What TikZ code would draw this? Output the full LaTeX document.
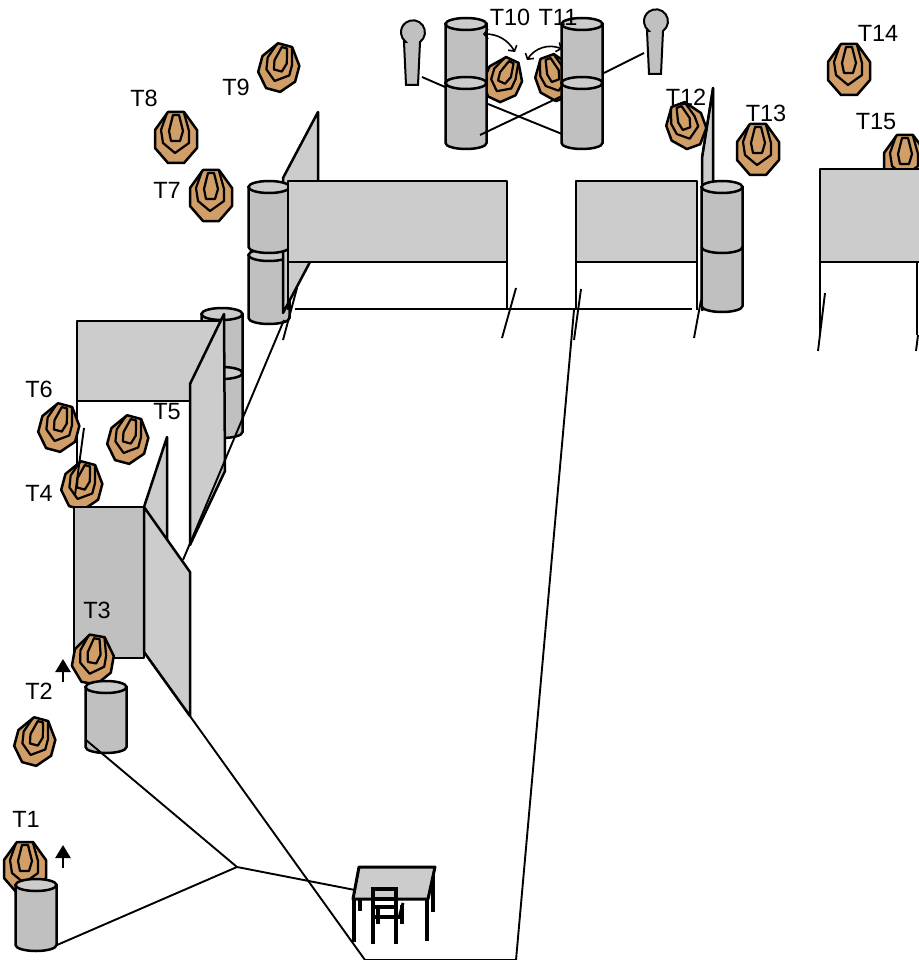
\documentclass[tikz,border=0pt]{standalone}
\usepackage{fontspec}
\setmainfont{Liberation Sans}
\usepackage{tikz}
\usetikzlibrary{arrows.meta,positioning}
\usepackage{xcolor}
\definecolor{tgtorange}{RGB}{209,158,104}
\definecolor{drumgray}{RGB}{192,192,192}
\definecolor{wallgray}{RGB}{204,204,204}
\tikzstyle{wall} = [draw=black, fill=wallgray, line width=2.5pt, line join=round]
\tikzstyle{drum} = [draw=black, fill=drumgray, line width=2.5pt]
\tikzstyle{drumtop} = [draw=black, fill=wallgray, line width=2.5pt]
\tikzstyle{wire} = [draw=black, line width=1.9pt]
\tikzstyle{tlabel} = [font=\fontsize{23.5}{25}\selectfont, inner sep=0pt]
\tikzstyle{uparrow} = [draw=black, line width=2.5pt, -{Triangle[length=13pt,width=15pt]}]
\tikzstyle{swing} = [draw=black, line width=1.6pt, {Straight Barb[length=4pt,width=10pt]}-{Straight Barb[length=4pt,width=10pt]}]
\tikzstyle{tableleg} = [draw=black, line width=4.5pt]
% target at x,y with a turn
\newcommand{\target}[3]{%
\begin{scope}[shift={(#1,#2)},rotate=#3,scale={1-abs(#3)*0.006}]
\draw[fill=tgtorange, line width=2.5pt, line join=round] (-8,-26) -- (8,-26) -- (21,-8) -- (21,10) -- (8,25) -- (-8,25) -- (-21,10) -- (-21,-8) -- cycle;
\draw[line width=2.2pt, line join=round] (-9,-25) -- (-15,-8) -- (-13,5) -- (-1,15) -- (13,5) -- (13,-7) -- (8,-25);
\draw[line width=2.2pt, line join=round] (-3,-23) -- (-7,-7) -- (-5,3) -- (4,3) -- (7,-7) -- (3,-23) -- cycle;
\end{scope}}
% drum at x, top y, bottom y
\newcommand{\barrel}[3]{%
\draw[drum] (#1-20.5,#2) -- (#1-20.5,#3) arc[start angle=180, end angle=360, x radius=20.5, y radius=-6] -- (#1+20.5,#2) -- cycle;
\draw[drumtop] (#1,#2) ellipse[x radius=20.5, y radius=6];}
% standing figure at x, head y
\newcommand{\figurine}[2]{%
\draw[drum, line width=2pt] (#1-8,#2+11) -- (#1-6,#2+54) -- (#1+6,#2+54) -- (#1+8,#2+11) arc[start angle=54, end angle=-234, radius=12] -- cycle;}

\begin{document}
\begin{tikzpicture}[x=1pt,y=-1pt]
\useasboundingbox (0,0) rectangle (918,960);

% Far targets and figures
\figurine{412}{31}
\figurine{655}{20}
\target{503}{80}{-25}
\target{555}{78}{20}
\target{849}{70}{0}
\target{905}{161}{0}
\target{279}{68}{-15}
\target{176}{138}{0}
\target{211}{196}{0}

% Far drums
\barrel{466}{24}{83}
\barrel{466}{83}{143}
\barrel{582}{24}{83}
\barrel{582}{83}{143}

% Wires round the drums
\coordinate (figl) at (422,77);
\coordinate (drumla) at (445,87);
\coordinate (figr) at (644,53);
\coordinate (drumra) at (604,73);
\coordinate (drumlb) at (488,104);
\coordinate (drumrb) at (562,134);
\coordinate (drumlc) at (480,135);
\coordinate (drumrc) at (562,96);
\draw[wire] (figl) -- (drumla);
\draw[wire] (figr) -- (drumra);
\draw[wire] (drumlb) -- (drumrb);
\draw[wire] (drumlc) -- (drumrc);

% Swing arrows
\coordinate (swinga) at (483,34);
\coordinate (swingb) at (515,52);
\coordinate (swingc) at (527,60);
\coordinate (swingd) at (562,49);
\draw[swing] (swinga) to[bend left=30] (swingb);
\draw[swing] (swingc) to[bend left=40] (swingd);

% Top walls
\barrel{269}{255}{318}
\draw[wall] (283,178) -- (318,112) -- (318,200) -- (310,262) -- (283,313) -- cycle;
\barrel{269}{187}{247}
\draw[wall] (288,181) rectangle (507,262);
\draw[wall] (576,181) rectangle (697,262);
\draw[wall] (820,169) rectangle (925,262);
\draw[wall] (702,158) -- (713,88) -- (713,190) -- (707,305) -- (702,310) -- cycle;
\barrel{722}{187}{306}
\draw[drum, fill=none] (701.5,247) arc[start angle=180, end angle=360, x radius=20.5, y radius=-6];

% Frame lines below the walls
\coordinate (framel) at (295,309);
\coordinate (framer) at (692,309);
\coordinate (legk) at (288,262);
\coordinate (legl) at (288,310);
\coordinate (lega) at (507,262);
\coordinate (legb) at (507,310);
\coordinate (legc) at (576,262);
\coordinate (legd) at (576,310);
\coordinate (lege) at (697,262);
\coordinate (legf) at (697,310);
\coordinate (legg) at (820,262);
\coordinate (legh) at (820,335);
\coordinate (legi) at (917,262);
\coordinate (legj) at (917,335);
\draw[wire] (framel) -- (framer);
\draw[wire] (legk) -- (legl);
\draw[wire] (lega) -- (legb);
\draw[wire] (legc) -- (legd);
\draw[wire] (lege) -- (legf);
\draw[wire] (legg) -- (legh);
\draw[wire] (legi) -- (legj);
\coordinate (ticka) at (516,288);
\coordinate (tickb) at (502,338);
\coordinate (tickc) at (581,289);
\coordinate (tickd) at (574,340);
\coordinate (ticke) at (701,300);
\coordinate (tickf) at (694,338);
\coordinate (tickg) at (825,293);
\coordinate (tickh) at (818,351);
\coordinate (ticki) at (918,335);
\coordinate (tickj) at (916,351);
\coordinate (tickk) at (297,288);
\coordinate (tickl) at (283,340);
\draw[wire] (ticka) -- (tickb);
\draw[wire] (tickc) -- (tickd);
\draw[wire] (ticke) -- (tickf);
\draw[wire] (tickg) -- (tickh);
\draw[wire] (ticki) -- (tickj);
\draw[wire] (tickk) -- (tickl);

% Left walls
\barrel{222}{314}{373}
\barrel{222}{373}{432}
\coordinate (diaga) at (284,320);
\coordinate (diagb) at (183,560);
\draw[wall] (77,321) rectangle (222,401);
\draw[wall] (190,384) -- (224,314) -- (225,471) -- (190,545) -- cycle;
\draw[wire] (diaga) -- (diagb);
\coordinate (wallb) at (77,401);
\coordinate (wallc) at (77,507);
\draw[wire] (wallb) -- (wallc);
\target{59}{428}{-15}
\target{128}{440}{-15}
\target{82}{486}{-15}
\coordinate (stroa) at (84,428);
\coordinate (strob) at (75,495);
\draw[wire] (stroa) -- (strob);
\draw[wall] (144,507) -- (167,437) -- (167,545) -- cycle;
\draw[wall, fill=drumgray] (74,507) rectangle (144,658);
\draw[wall] (144,507) -- (190,572) -- (190,716) -- (144,652) -- cycle;

% Near targets
\target{93}{660}{-10}
\target{35}{742}{-15}
\target{25}{868}{0}
\target{686}{126}{20}
\target{758}{150}{0}
\draw[wall, fill=none, line width=2pt] (702,158) -- (713,88) -- (713,181);
\barrel{106}{687}{747}
\barrel{36}{885}{945}

% Floor lines
\coordinate (hub) at (237,867);
\coordinate (drumt) at (86,740);
\coordinate (drumu) at (57,945);
\coordinate (tablel) at (355,890);
\coordinate (flra) at (144,652);
\coordinate (flrb) at (365,960);
\coordinate (flrc) at (516,960);
\coordinate (flrd) at (574,310);
\draw[wire] (drumt) -- (hub);
\draw[wire] (drumu) -- (hub);
\draw[wire] (hub) -- (tablel);
\draw[wire] (flra) -- (flrb) -- (flrc) -- (flrd);

% Table and chair
\draw[tableleg] (433,867) -- (433,912);
\draw[tableleg] (360,899) -- (360,911);
\draw[wall, line width=3pt] (359,867) -- (435,867) -- (428,899) -- (353,899) -- cycle;
\draw[tableleg] (354,899) -- (354,942);
\draw[tableleg] (427,899) -- (427,941);
\draw[tableleg] (402,905) -- (402,924);
\draw[tableleg] (378,905) -- (378,924);
\draw[black, line width=3pt] (403,903) -- (399,918);
\draw[tableleg] (373,887) -- (373,944);
\draw[tableleg] (396,887) -- (396,944);
\foreach \railY in {889,899,907,917} {
\draw[black, line width=3.5pt] (373,\railY) -- (396,\railY);
}
\draw[black, line width=3pt] (371,917) -- (403,917);

% Up arrows
\coordinate (arra) at (63,682);
\coordinate (arrb) at (63,659);
\coordinate (arrc) at (63,868);
\coordinate (arrd) at (63,845);
\draw[uparrow] (arra) -- (arrb);
\draw[uparrow] (arrc) -- (arrd);

% Labels
\node[tlabel] (t1) at (26,819) {T1};
\node[tlabel] (t2) at (39,691) {T2};
\node[tlabel] (t3) at (97,610) {T3};
\node[tlabel] (t4) at (39,493) {T4};
\node[tlabel] (t5) at (167,412) {T5};
\node[tlabel] (t6) at (39,389) {T6};
\node[tlabel] (t7) at (167,190) {T7};
\node[tlabel] (t8) at (144,98) {T8};
\node[tlabel] (t9) at (236,87) {T9};
\node[tlabel] (t10) at (510,17) {T10};
\node[tlabel] (t11) at (558,17) {T11};
\node[tlabel] (t12) at (686,97) {T12};
\node[tlabel] (t13) at (766,113) {T13};
\node[tlabel] (t14) at (878,33) {T14};
\node[tlabel] (t15) at (876,122) {T15};
\end{tikzpicture}
\end{document}
